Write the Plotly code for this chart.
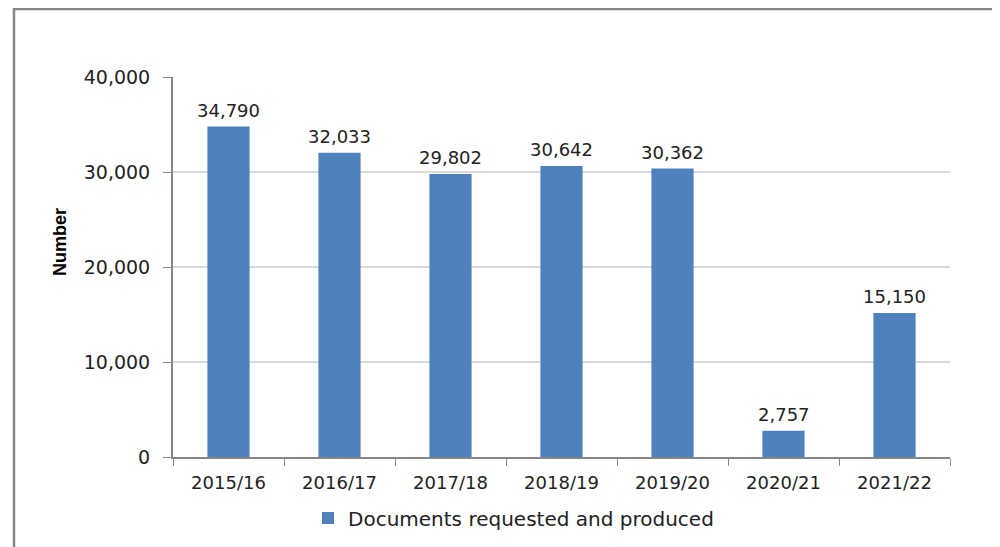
import plotly.graph_objects as go

years = ["2015/16", "2016/17", "2017/18", "2018/19", "2019/20", "2020/21", "2021/22"]
documents = [34790, 32033, 29802, 30642, 30362, 2757, 15150]
y_ticks = [0, 10000, 20000, 30000, 40000]
y_tick_labels = ["0", "10,000", "20,000", "30,000", "40,000"]
series_name = "Documents requested and produced"

OFF = 8  # page body margin
W, H = 1000, 547
L, T = 173 - OFF, 77 - OFF
R = W - (950 - OFF)
B = H - (457 - OFF)
pw, ph = W - L - R, H - T - B

def px_x(sx):
    return (sx - OFF - L) / pw

def px_y(sy):
    return (H - B - (sy - OFF)) / ph

fig = go.Figure()
fig.add_trace(go.Bar(
    x=years, y=documents, name=series_name,
    marker=dict(color="#4F81BD", line=dict(width=0)),
))

for yr, v in zip(years, documents):
    fig.add_annotation(x=yr, y=v, text=f"{v:,}", showarrow=False,
                       yanchor="bottom", yshift=4,
                       font=dict(family="DejaVu Sans", size=18, color="#222222"))

fig.add_annotation(xref="paper", yref="paper", x=px_x(60), y=px_y(242),
                   text="<b>Number</b>", textangle=-90, showarrow=False,
                   xanchor="center", yanchor="middle",
                   font=dict(family="Liberation Sans", size=18, color="#000000"))

fig.update_layout(
    width=W, height=H,
    margin=dict(l=L, r=R, t=T, b=B, pad=0),
    paper_bgcolor="white", plot_bgcolor="white",
    bargap=0.62,
    showlegend=True,
    legend=dict(orientation="h", x=px_x(308), xanchor="left", y=px_y(518), yanchor="middle",
                font=dict(family="DejaVu Sans", size=20, color="#222222"),
                itemwidth=30, tracegroupgap=0),
    xaxis=dict(
        type="category", tickson="boundaries", ticks="outside", ticklen=7,
        tickcolor="#868686", showline=True, linecolor="#868686", linewidth=2,
        tickfont=dict(family="DejaVu Sans", size=18, color="#222222"),
        ticklabelstandoff=8,
        showgrid=False, zeroline=False,
    ),
    yaxis=dict(
        range=[0, 40000], tickvals=y_ticks, ticktext=y_tick_labels,
        ticks="outside", ticklen=8, tickcolor="#868686",
        showline=True, linecolor="#868686", linewidth=2,
        gridcolor="#D9D9D9", gridwidth=1.5, zeroline=False,
        tickfont=dict(family="DejaVu Sans", size=19, color="#222222"),
        ticklabelstandoff=9,
    ),
)

fig.add_shape(type="path", xref="paper", yref="paper",
              path=f"M {px_x(14)} {px_y(600)} L {px_x(14)} {px_y(9)} L {px_x(1050)} {px_y(9)}",
              line=dict(color="#878787", width=2.5), layer="above")

fig.write_html("out.html")
